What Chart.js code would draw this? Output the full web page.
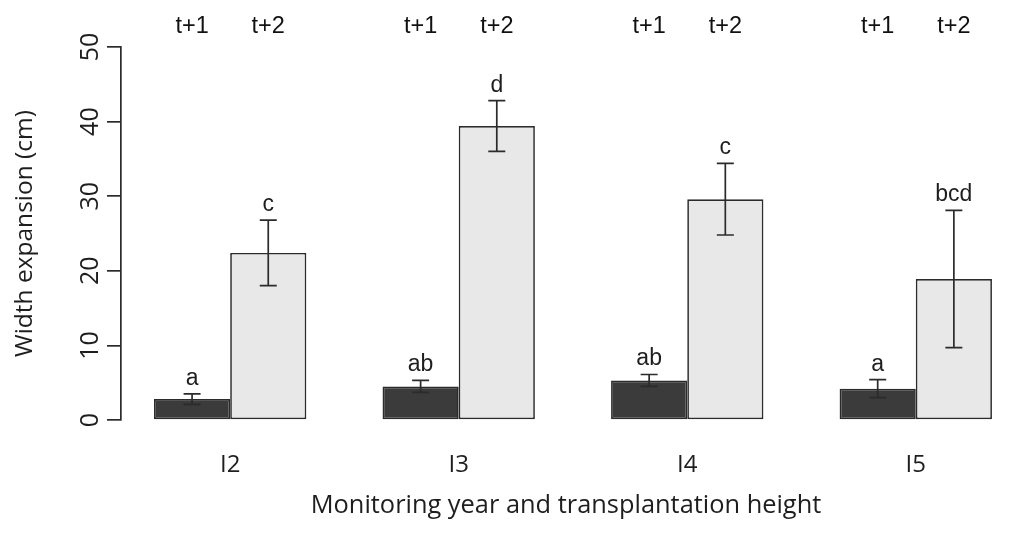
<!DOCTYPE html>
<html>
<head>
<meta charset="utf-8">
<script src="https://cdn.jsdelivr.net/npm/chart.js@4.4.0/dist/chart.umd.min.js"></script>
<style>
  html, body { margin: 0; padding: 0; background: #fff; overflow: hidden; }
</style>
</head>
<body>
<canvas id="widthChart" width="1011" height="549"></canvas>
<script>
// Height groups and their centres on the x axis (barplot units)
const groups = ['I2', 'I3', 'I4', 'I5'];
const groupPos = [2, 5, 8, 11];
const years = ['t+1', 't+2'];

// Mean width expansion (cm) and error half-length
const meanT1 = [2.8, 4.5, 5.3, 4.2];
const errT1 = [0.7, 0.8, 0.8, 1.2];
const meanT2 = [22.4, 39.4, 29.6, 18.9];
const errT2 = [4.4, 3.4, 4.8, 9.2];

// Significance letters above each bar
const lettersT1 = ['a', 'ab', 'ab', 'a'];
const lettersT2 = ['c', 'd', 'c', 'bcd'];

const yTicks = [0, 10, 20, 30, 40, 50];

const INK = '#2b2b2b';
const sansR = '"Liberation Sans", Arial, sans-serif';
const sansH = '"Open Sans", sans-serif';

// Error bars + letters, drawn from the bar elements and y scale
const errorBars = {
  id: 'errorBars',
  afterDatasetsDraw(chart) {
    const { ctx, scales: { y } } = chart;
    ctx.save();
    ctx.strokeStyle = INK;
    ctx.lineWidth = 1.7;
    ctx.fillStyle = '#1e1e1e';
    ctx.font = '23px ' + sansR;
    ctx.textAlign = 'center';
    ctx.textBaseline = 'alphabetic';
    chart.data.datasets.forEach((ds, i) => {
      chart.getDatasetMeta(i).data.forEach((bar, j) => {
        const v = ds.data[j].y;
        const top = y.getPixelForValue(v + ds.err[j]);
        const bot = y.getPixelForValue(v - ds.err[j]);
        const cap = 8.5;
        ctx.beginPath();
        ctx.moveTo(bar.x, top); ctx.lineTo(bar.x, bot);
        ctx.moveTo(bar.x - cap, top); ctx.lineTo(bar.x + cap, top);
        ctx.moveTo(bar.x - cap, bot); ctx.lineTo(bar.x + cap, bot);
        ctx.stroke();
        ctx.fillText(ds.letters[j], bar.x, top - 9);
      });
    });
    ctx.restore();
  }
};

new Chart(document.getElementById('widthChart'), {
  type: 'bar',
  data: {
    datasets: [{
      label: years[0],
      data: meanT1.map((v, i) => ({ x: groupPos[i], y: v })),
      err: errT1,
      letters: lettersT1,
      backgroundColor: '#3b3b3b',
      borderColor: INK,
      borderWidth: 1.7,
      borderSkipped: false
    }, {
      label: years[1],
      data: meanT2.map((v, i) => ({ x: groupPos[i], y: v })),
      err: errT2,
      letters: lettersT2,
      backgroundColor: '#e8e8e8',
      borderColor: INK,
      borderWidth: 1.7,
      borderSkipped: false
    }]
  },
  options: {
    responsive: false,
    animation: false,
    layout: { padding: 0 },
    categoryPercentage: 2 / 3,
    barPercentage: 1,
    plugins: { legend: { display: false }, tooltip: { enabled: false } },
    scales: {
      x: {
        type: 'linear',
        position: 'bottom',
        min: 0.567,
        max: 12.25,
        offset: false,
        grid: { display: false, drawTicks: false },
        border: { display: false },
        afterBuildTicks: s => { s.ticks = groupPos.map(v => ({ value: v })); },
        afterFit: s => { s.height = 129; },
        ticks: {
          autoSkip: false,
          maxRotation: 0,
          padding: 31,
          color: '#1e1e1e',
          font: { family: sansH, size: 24 },
          callback: (v, i) => groups[i]
        },
        title: {
          display: true,
          text: 'Monitoring year and transplantation height',
          color: '#1e1e1e',
          font: { family: sansH, size: 25.4 },
          padding: { top: 0, bottom: 28 }
        }
      },
      xTop: {
        type: 'linear',
        position: 'top',
        min: 0.567,
        max: 12.25,
        offset: false,
        grid: { display: false, drawTicks: false },
        border: { display: false },
        afterBuildTicks: s => {
          s.ticks = [];
          groupPos.forEach(v => { s.ticks.push({ value: v - 0.5 }, { value: v + 0.5 }); });
        },
        afterFit: s => { s.height = 47; },
        ticks: {
          autoSkip: false,
          maxRotation: 0,
          padding: 6,
          color: '#111',
          font: { family: sansR, size: 23.5 },
          callback: (v, i) => years[i % 2]
        }
      },
      y: {
        min: 0,
        max: 50,
        afterBuildTicks: s => { s.ticks = yTicks.map(v => ({ value: v })); },
        afterFit: s => { s.width = 121; },
        grid: { drawOnChartArea: false, drawTicks: true, tickLength: 14, color: INK, lineWidth: 1.7 },
        border: { display: true, color: INK, width: 1.7 },
        ticks: {
          minRotation: 90,
          maxRotation: 90,
          crossAlign: 'center',
          padding: 2,
          color: '#1e1e1e',
          font: { family: sansH, size: 25 }
        },
        title: {
          display: true,
          text: 'Width expansion (cm)',
          color: '#1e1e1e',
          font: { family: sansH, size: 24.5 },
          padding: { top: 10, bottom: 0 }
        }
      }
    }
  },
  plugins: [errorBars]
});
</script>
</body>
</html>
